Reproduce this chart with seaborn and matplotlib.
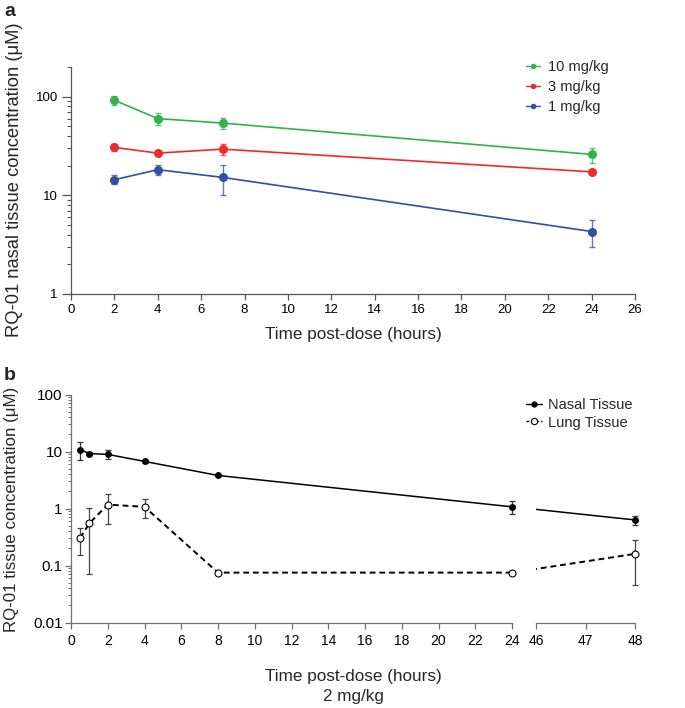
import numpy as np
import pandas as pd
import matplotlib
matplotlib.use("Agg")
import matplotlib.pyplot as plt
import matplotlib.ticker as mticker
from matplotlib.lines import Line2D
import seaborn as sns

# ---------------- data ----------------
times_a = [2, 4, 7, 24]
dose_labels = ["10 mg/kg", "3 mg/kg", "1 mg/kg"]
mean_10 = [92, 60, 54, 26]
sd_10 = [10, 8, 7, 4.5]
mean_3 = [30.6, 26.8, 29.4, 17.3]
sd_3 = [2.5, 1.2, 3.7, 1.0]
mean_1 = [14.4, 18.2, 15.2, 4.3]
sd_1 = [1.5, 2.2, 5.0, 1.3]

times_b = [0.5, 1, 2, 4, 8, 24, 48]
nasal = [10.8, 9.2, 8.9, 6.7, 3.8, 1.07, 0.63]
nasal_sd = [3.6, 0.5, 1.6, 0.3, 0.15, 0.27, 0.12]
lung = [0.305, 0.55, 1.17, 1.07, 0.075, 0.075, 0.16]
lung_sd = [0.155, 0.48, 0.63, 0.4, 0.003, 0.006, 0.115]

xticks_a = list(range(0, 28, 2))
yticks_a = [1, 10, 100]
xticks_bl = list(range(0, 26, 2))
xticks_br = [46, 47, 48]
yticks_b = [0.01, 0.1, 1, 10, 100]

colors = ["#33b24a", "#ee2b2b", "#3150a3"]

# ---------------- style ----------------
sns.set_theme(style="ticks")
plt.rcParams["font.family"] = ["Liberation Sans", "DejaVu Sans"]

W, H = 685, 708
fig = plt.figure(figsize=(W / 100, H / 100), dpi=100)


def rect(x0, y0, x1, y1):
    return [x0 / W, 1 - y1 / H, (x1 - x0) / W, (y1 - y0) / H]


fmt = mticker.FuncFormatter(lambda v, p: f"{v:g}")

# ---------------- panel a ----------------
ax = fig.add_axes(rect(71, 67, 635, 294))
df_a = pd.DataFrame({
    "time": times_a * 3,
    "conc": mean_10 + mean_3 + mean_1,
    "sd": sd_10 + sd_3 + sd_1,
    "dose": [d for d in dose_labels for _ in times_a],
})
for d, c in zip(dose_labels, colors):
    sub = df_a[df_a["dose"] == d]
    ax.errorbar(sub["time"], sub["conc"], yerr=sub["sd"], fmt="none",
                ecolor=c, elinewidth=1.0, capsize=2.5, capthick=1.0, alpha=0.75, zorder=2)
    sns.lineplot(data=sub, x="time", y="conc", ax=ax, color=c, marker="o",
                 markersize=6.5, markeredgewidth=0, linewidth=1.2, legend=False,
                 errorbar=None, zorder=3)
ax.set_yscale("log")
ax.set_xlim(0, 26)
ax.set_ylim(1, 200)
ax.set_xticks(xticks_a)
ax.set_yticks(yticks_a)
ax.yaxis.set_major_formatter(fmt)
ax.yaxis.set_minor_formatter(mticker.NullFormatter())
ax.set_xlabel("")
ax.set_ylabel("")
for s in ["top", "right"]:
    ax.spines[s].set_visible(False)
for s in ["left", "bottom"]:
    ax.spines[s].set_color("#5a5555")
    ax.spines[s].set_linewidth(0.9)
ax.tick_params(axis="x", which="major", length=4.5, width=0.9, color="#5a5555",
               labelsize=9.5, pad=3, labelcolor="black")
ax.tick_params(axis="y", which="major", length=6.5, width=0.9, color="#5a5555",
               labelsize=9.5, pad=3, labelcolor="black")
ax.tick_params(axis="y", which="minor", length=3, width=0.8, color="#5a5555")

handles_a = [Line2D([0], [0], color=c, lw=1.0, marker="o", markersize=4, markeredgewidth=0)
             for c in colors]
fig.legend(handles_a, dose_labels, loc="upper left",
           bbox_to_anchor=(520 / W, 1 - 54 / H), frameon=False, fontsize=10.5,
           handlelength=1.0, handletextpad=0.5, labelspacing=0.42, borderaxespad=0)

fig.text(353 / W, 1 - 335 / H, "Time post-dose (hours)", ha="center", va="center", fontsize=12.3)
fig.text(15 / W, 1 - 180 / H, "RQ-01 nasal tissue concentration (μM)", ha="center",
         va="center", rotation=90, fontsize=13.2)
fig.text(4 / W, 1 - 12 / H, "a", ha="left", va="center", fontsize=14, fontweight="bold")

# ---------------- panel b ----------------
axl = fig.add_axes(rect(71, 394.5, 512, 622.5))
axr = fig.add_axes(rect(536, 394.5, 635, 622.5))
df_b = pd.DataFrame({"time": times_b, "nasal": nasal, "nasal_sd": nasal_sd,
                     "lung": lung, "lung_sd": lung_sd})
left = df_b[df_b["time"] <= 24]
right = df_b[df_b["time"] >= 46]

for a in (axl, axr):
    a.set_yscale("log")
    a.set_ylim(0.01, 100)
axl.set_xlim(0, 24)
axr.set_xlim(46, 48)

gray = "#707070"
for a, sub in ((axl, left), (axr, right)):
    a.errorbar(sub["time"], sub["nasal"], yerr=sub["nasal_sd"], fmt="none", ecolor="#333333",
               elinewidth=0.9, capsize=2.5, capthick=0.9, zorder=2, clip_on=False)
    a.errorbar(sub["time"], sub["lung"], yerr=sub["lung_sd"], fmt="none", ecolor="#444444",
               elinewidth=0.9, capsize=2.5, capthick=0.9, zorder=2, clip_on=False)
    sns.lineplot(data=sub, x="time", y="nasal", ax=a, color="black", marker="o",
                 markersize=5, markeredgewidth=0, linewidth=1.1, errorbar=None,
                 legend=False, zorder=3, clip_on=False)
    sns.lineplot(data=sub, x="time", y="lung", ax=a, color="black", marker="o",
                 markersize=5, markerfacecolor="white", markeredgecolor="black",
                 markeredgewidth=0.8, linewidth=1.4, linestyle=(0, (3, 2)),
                 errorbar=None, legend=False, zorder=3, clip_on=False)

# connecting segments across the axis break (24 h -> 48 h), clipped to the right axes
i24 = times_b.index(24)
i48 = times_b.index(48)
for series, ls, lw in ((nasal, "-", 1.1), (lung, (0, (3, 2)), 1.4)):
    p = axl.transData.transform((times_b[i24], series[i24]))
    x_r = axr.transData.inverted().transform(p)[0]
    seg = pd.DataFrame({"time": [x_r, times_b[i48]], "v": [series[i24], series[i48]]})
    sns.lineplot(data=seg, x="time", y="v", ax=axr, color="black", linewidth=lw,
                 linestyle=ls, errorbar=None, legend=False, zorder=1)
axr.set_xlim(46, 48)

axl.set_xticks(xticks_bl)
axr.set_xticks(xticks_br)
axl.set_yticks(yticks_b)
axl.yaxis.set_major_formatter(fmt)
axl.yaxis.set_minor_formatter(mticker.NullFormatter())
axr.xaxis.set_major_formatter(fmt)
for a in (axl, axr):
    a.set_xlabel("")
    a.set_ylabel("")
    for s in ["top", "right"]:
        a.spines[s].set_visible(False)
    for s in ["left", "bottom"]:
        a.spines[s].set_color(gray)
        a.spines[s].set_linewidth(0.9)
    a.tick_params(axis="x", which="major", length=4, width=0.9, color=gray,
                  labelsize=10, pad=4, labelcolor="black")
axl.tick_params(axis="y", which="major", length=4, width=0.9, color=gray,
                labelsize=11, pad=2, labelcolor="black")
axl.tick_params(axis="y", which="minor", length=2.5, width=0.7, color=gray)
axr.spines["left"].set_visible(False)
axr.tick_params(axis="y", which="both", left=False, labelleft=False)

handles_b = [Line2D([0], [0], color="black", lw=1.0, marker="o", markersize=4.5,
                    markeredgewidth=0),
             Line2D([0], [0], color="black", lw=1.0, linestyle=(0, (2, 1.5)), marker="o",
                    markersize=4.5, markerfacecolor="white", markeredgecolor="black",
                    markeredgewidth=0.8)]
fig.legend(handles_b, ["Nasal Tissue", "Lung Tissue"], loc="upper left",
           bbox_to_anchor=(520 / W, 1 - 392.5 / H), frameon=False, fontsize=10.5,
           handlelength=1.1, handletextpad=0.45, labelspacing=0.22, borderaxespad=0)

fig.text(353 / W, 1 - 677 / H, "Time post-dose (hours)", ha="center", va="center", fontsize=12.3)
fig.text(353 / W, 1 - 697 / H, "2 mg/kg", ha="center", va="center", fontsize=12.3)
fig.text(12 / W, 1 - 509 / H, "RQ-01 tissue concentration (μM)", ha="center",
         va="center", rotation=90, fontsize=12.2)
fig.text(4 / W, 1 - 376 / H, "b", ha="left", va="center", fontsize=14, fontweight="bold")

fig.savefig("out.png", dpi=100)
